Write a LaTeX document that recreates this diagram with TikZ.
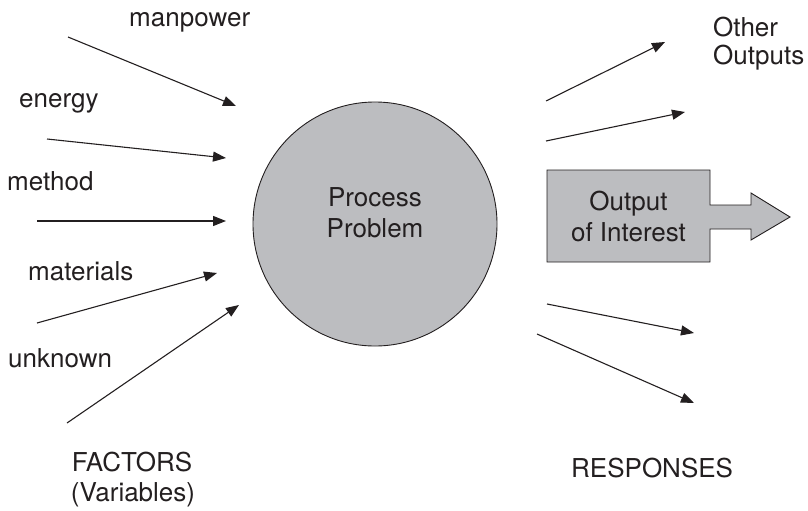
\documentclass[tikz,border=0pt]{standalone}
\usepackage{fontspec}
\setmainfont{TeX Gyre Heros}
\usetikzlibrary{arrows.meta}
\definecolor{procgray}{RGB}{188,189,192}
\definecolor{ink}{RGB}{35,31,32}
\tikzset{
  lbl/.style={anchor=base west,inner sep=0pt,text=ink,font=\fontsize{26}{31}\selectfont},
  ctr/.style={lbl,anchor=base},
  flow/.style={draw=ink,line width=1.1pt,-{Triangle[length=13pt,width=10pt]}}
}
\begin{document}
\begin{tikzpicture}[x=1pt,y=-1pt]
      \useasboundingbox (0,0) rectangle (808,511);
      \node[circle,draw=ink,line width=0.9pt,fill=procgray,minimum size=244pt,inner sep=0pt] (proc) at (375,224) {};
      \node[lbl,anchor=center,align=center] (proctxt) at (375,212.5) {Process\\Problem};
      \filldraw[draw=ink,line width=0.9pt,fill=procgray]
        (547,170) -- (710,170) -- (710,205) -- (751,205) -- (751,193) -- (790,217)
        -- (751,240) -- (751,229) -- (710,229) -- (710,262) -- (547,262) -- cycle;
      \node[lbl,anchor=center,align=center] (interest) at (628.5,216) {Output\\of Interest};
      \draw
        (129,27) node[lbl] (manpower){manpower}
        (19,107) node[lbl] (energy){energy}
        (7,190) node[lbl] (method){method}
        (28,280) node[lbl] (materials){materials}
        (8,367) node[lbl] (unknown){unknown}
        (132,471) node[ctr] (factors){FACTORS}
        (133,501) node[ctr] (variables){(Variables)}
        (571,477) node[lbl] (responses){RESPONSES}
        (713,37) node[lbl] (other){Other}
        (713,65) node[lbl] (outputs){Outputs};
      % free ends of the arrows
      \coordinate (manS) at (68,37);   \coordinate (manT) at (236,106);
      \coordinate (enS) at (47,139);   \coordinate (enT) at (226,158);
      \coordinate (meS) at (37,221);   \coordinate (meT) at (226,221);
      \coordinate (maS) at (37,323);   \coordinate (maT) at (217,273);
      \coordinate (unS) at (67,423);   \coordinate (unT) at (239,305);
      \coordinate (oaS) at (546,101);  \coordinate (oaT) at (665,42);
      \coordinate (obS) at (546,141);  \coordinate (obT) at (685,112);
      \coordinate (ocS) at (547,304);  \coordinate (ocT) at (694,333);
      \coordinate (odS) at (537,334);  \coordinate (odT) at (694,403);
      \begin{scope}[flow]
        \draw (manS) to (manT);
        \draw (enS) to (enT);
        \draw (meS) to (meT);
        \draw (maS) to (maT);
        \draw (unS) to (unT);
        \draw (oaS) to (oaT);
        \draw (obS) to (obT);
        \draw (ocS) to (ocT);
        \draw (odS) to (odT);
      \end{scope}
    \end{tikzpicture}
\end{document}
